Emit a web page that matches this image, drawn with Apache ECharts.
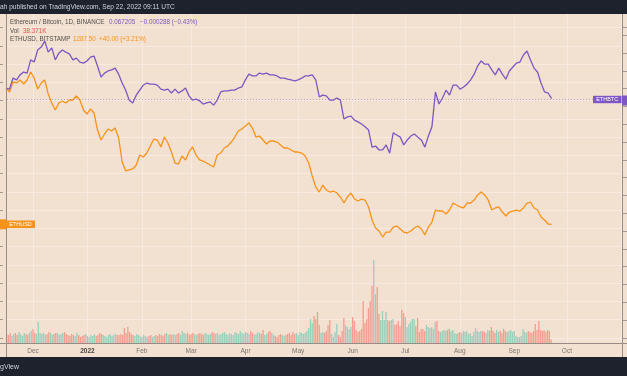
<!DOCTYPE html>
<html><head><meta charset="utf-8">
<script src="https://cdn.jsdelivr.net/npm/echarts@6/dist/echarts.min.js"></script>
<style>html,body{margin:0;padding:0;background:#f2e0d0}#c{width:627px;height:376px}</style>
</head><body><div id="c"></div><script>
// ---- data ----
const startDate = [2021, 10, 16];   // Nov 16, 2021 (first daily bar / first line point)
const lineStepDays = 2;             // line samples every 2 days
const ethbtc = [0.0702,0.0699,0.0730,0.0725,0.0739,0.0747,0.0744,0.0781,0.0775,0.0809,
0.0817,0.0834,0.0803,0.0815,0.0781,0.0800,0.0809,0.0803,0.0798,0.0781,
0.0786,0.0775,0.0772,0.0778,0.0789,0.0792,0.0764,0.0733,0.0744,0.0750,
0.0753,0.0758,0.0741,0.0716,0.0696,0.0668,0.0660,0.0682,0.0696,0.0710,
0.0716,0.0713,0.0713,0.0710,0.0699,0.0696,0.0699,0.0688,0.0699,0.0688,
0.0694,0.0702,0.0680,0.0668,0.0671,0.0666,0.0657,0.0660,0.0663,0.0654,
0.0668,0.0691,0.0694,0.0694,0.0696,0.0696,0.0702,0.0705,0.0725,0.0741,
0.0736,0.0736,0.0744,0.0741,0.0744,0.0739,0.0739,0.0736,0.0730,0.0730,
0.0727,0.0725,0.0722,0.0725,0.0730,0.0736,0.0736,0.0739,0.0725,0.0677,
0.0682,0.0680,0.0668,0.0668,0.0674,0.0668,0.0615,0.0621,0.0623,0.0612,
0.0607,0.0601,0.0593,0.0584,0.0536,0.0539,0.0528,0.0528,0.0542,0.0519,
0.0576,0.0570,0.0564,0.0542,0.0556,0.0567,0.0573,0.0564,0.0556,0.0536,
0.0567,0.0593,0.0691,0.0657,0.0674,0.0696,0.0682,0.0710,0.0710,0.0699,
0.0705,0.0713,0.0725,0.0741,0.0764,0.0778,0.0769,0.0769,0.0753,0.0739,
0.0758,0.0741,0.0727,0.0750,0.0761,0.0772,0.0775,0.0795,0.0806,0.0781,
0.0758,0.0747,0.0716,0.0691,0.0688,0.067205];
const ethusd = [4275,4187,4407,4385,4450,4363,4450,4626,4494,4253,
4385,4450,4144,3946,3793,3946,3990,3946,4012,4012,
4100,4012,3793,3705,3815,3727,3354,3135,3267,3376,
3332,3398,3179,2653,2456,2478,2500,2587,2806,2763,
2850,3004,3157,3135,2982,3201,3069,2872,2631,2609,
2784,2697,2872,2982,2806,2697,2675,2631,2587,2543,
2806,2850,2960,3004,3091,3201,3332,3376,3442,3508,
3398,3201,3223,3135,3048,3113,3113,3091,3026,2960,
2960,2916,2872,2872,2850,2784,2631,2346,2105,1995,
2149,2039,1995,2017,1973,1886,1754,1886,1973,1842,
1798,1842,1820,1667,1382,1206,1140,1009,1118,1118,
1228,1250,1184,1118,1097,1140,1206,1250,1184,1053,
1228,1338,1601,1579,1579,1513,1601,1754,1710,1667,
1645,1754,1754,1820,1930,1995,1930,1820,1601,1645,
1667,1557,1469,1557,1579,1601,1579,1645,1754,1776,
1645,1601,1447,1382,1294,1287.5];
const volumeK = [90,80,100,70,90,100,80,110,90,70,100,90,80,100,120,140,
100,90,210,100,90,100,80,90,110,100,80,90,100,100,80,90,
100,110,90,80,70,90,80,70,100,80,60,70,80,90,70,60,
80,70,90,70,80,100,90,80,70,60,80,90,70,80,90,80,
80,90,80,150,100,160,110,90,80,70,90,80,70,60,80,70,
60,70,80,60,70,80,70,90,80,70,90,100,80,90,80,90,
80,90,100,80,120,100,90,100,80,90,100,90,80,90,100,90,
80,100,90,80,90,110,100,90,100,80,90,100,110,90,80,100,
90,80,110,100,90,120,100,90,110,100,90,120,100,80,90,110,
100,90,130,80,90,110,120,100,80,70,60,80,90,80,70,80,
90,100,80,110,90,100,80,110,100,90,100,120,150,240,200,270,
240,310,180,100,110,100,120,180,230,90,60,110,190,80,60,120,
250,180,160,140,160,260,220,130,110,120,140,420,200,240,350,420,
570,830,490,560,290,230,320,230,310,230,220,230,240,180,190,220,
170,330,300,260,160,190,210,240,240,170,250,110,140,140,120,180,
160,150,160,140,210,220,120,110,120,130,120,130,140,120,130,100,
90,100,110,100,120,110,120,90,100,70,110,150,120,110,120,120,
110,100,130,120,160,120,100,130,110,120,100,140,120,110,120,130,
110,120,70,60,60,70,140,110,100,120,110,100,120,190,130,220,
130,120,130,110,130,120,38.371];
const monthNames = ['Jan','Feb','Mar','Apr','May','Jun','Jul','Aug','Sep','Oct','Nov','Dec'];
const axisStart = new Date(2021, 10, 16).getTime();
const axisEnd = new Date(2022, 10, 1).getTime();

// ---- styles ----
const BG = '#f2e0d0', GRIDC = '#f7ebe1', FRAME = '#978d86';
const PURPLE = '#7e57c2', ORANGE = '#f7931a', UP = '#98cfbd', DOWN = '#f29d90';
const FONT = '"Liberation Sans", Arial, sans-serif';

function dayDate(d) { return new Date(startDate[0], startDate[1], startDate[2] + d).getTime(); }
const btcData = ethbtc.map((v, i) => [dayDate(i * lineStepDays), v]);
const usdData = ethusd.map((v, i) => [dayDate(i * lineStepDays), v]);
const volData = volumeK.map((v, d) => {
  const k = Math.max(1, Math.ceil(d / lineStepDays));
  const up = ethbtc[k] >= ethbtc[k - 1];
  return { value: [dayDate(d), v], itemStyle: { color: up ? UP : DOWN } };
});

const chart = echarts.init(document.getElementById('c'), null, { renderer: 'canvas' });
chart.setOption({
  animation: false,
  backgroundColor: BG,
  grid: [
    { left: 6, right: 5, top: 14, bottom: 33 },
    { left: 6, right: 5, top: 27.55, height: 310.25 }
  ],
  xAxis: [
    { type: 'time', gridIndex: 0, min: axisStart, max: axisEnd, splitNumber: 12,
      axisLine: { show: false }, axisTick: { show: false },
      splitLine: { show: true, lineStyle: { color: GRIDC, width: 1 } },
      axisLabel: { color: '#7d7671', fontSize: 6.5, fontFamily: FONT, margin: 5,
        showMinLabel: false, showMaxLabel: false, hideOverlap: false,
        formatter: function (val) {
          const d = new Date(val);
          if (d.getDate() !== 1 || val >= axisEnd) return '';
          if (d.getMonth() === 0) return '{y|' + d.getFullYear() + '}';
          return monthNames[d.getMonth()];
        },
        rich: { y: { fontWeight: 'bold', color: '#4a4541', fontSize: 6.5, fontFamily: FONT } } } },
    { type: 'time', gridIndex: 1, min: axisStart, max: axisEnd, show: false }
  ],
  yAxis: [
    { type: 'value', gridIndex: 0, min: 0, max: 3290, show: false },
    { type: 'value', gridIndex: 1, position: 'left', min: -1200, max: 5600, interval: 400, offset: 3,
      axisLine: { show: false }, axisLabel: { show: false },
      axisTick: { show: true, length: 3, lineStyle: { color: '#a59b93' } },
      splitLine: { show: true, lineStyle: { color: GRIDC, width: 1 } } },
    { type: 'value', gridIndex: 1, position: 'right', min: 0, max: 0.0872, interval: 0.005, offset: 1,
      axisLine: { show: false }, axisLabel: { show: false },
      axisTick: { show: true, length: 4, lineStyle: { color: '#a59b93' } },
      splitLine: { show: false } }
  ],
  series: [
    { name: 'Vol', type: 'bar', xAxisIndex: 0, yAxisIndex: 0, data: volData, barWidth: 1.3, z: 1 },
    { name: 'ETHUSD', type: 'line', xAxisIndex: 1, yAxisIndex: 1, data: usdData, showSymbol: false,
      lineStyle: { color: ORANGE, width: 1.3 }, itemStyle: { color: ORANGE }, z: 3 },
    { name: 'ETHBTC', type: 'line', xAxisIndex: 1, yAxisIndex: 2, data: btcData, showSymbol: false,
      lineStyle: { color: PURPLE, width: 1.3 }, itemStyle: { color: PURPLE }, z: 4 }
  ]
});

const lastBtc = ethbtc[ethbtc.length - 1];
const yBtc = Math.round(chart.convertToPixel({ yAxisIndex: 2 }, lastBtc)) + 0.5;
const yUsd = chart.convertToPixel({ yAxisIndex: 1 }, ethusd[ethusd.length - 1]);
function txt(x, y, s, fill, size, weight) {
  return { type: 'text', x: x, y: y, z: 100,
    style: { text: s, fill: fill, fontSize: size, fontFamily: FONT, fontWeight: weight || 'normal', verticalAlign: 'middle', align: 'left' } };
}
chart.setOption({
  graphic: [
    // last-price dotted line of ETHBTC, positioned from the axis scale
    { type: 'line', z: 5, shape: { x1: 7, y1: yBtc, x2: 622, y2: yBtc },
      style: { stroke: 'rgba(126,87,194,0.45)', lineWidth: 1, lineDash: [1, 2] } },
    { type: 'rect', z: 90, shape: { x: 0, y: 0, width: 627, height: 14 }, style: { fill: '#1e222d' } },
    { type: 'rect', z: 90, shape: { x: 0, y: 357, width: 627, height: 19 }, style: { fill: '#1e222d' } },
    { type: 'line', z: 91, shape: { x1: 6.5, y1: 14, x2: 6.5, y2: 357 }, style: { stroke: FRAME, lineWidth: 1 } },
    { type: 'line', z: 91, shape: { x1: 622.5, y1: 14, x2: 622.5, y2: 357 }, style: { stroke: FRAME, lineWidth: 1 } },
    { type: 'line', z: 91, shape: { x1: 0, y1: 343.5, x2: 627, y2: 343.5 }, style: { stroke: FRAME, lineWidth: 1 } },
    txt(0, 7.5, 'ah published on TradingView.com, Sep 22, 2022 09:11 UTC', '#d1d4dc', 6.6),
    txt(0, 367, 'gView', '#d1d4dc', 7),
    txt(10, 22.5, 'Ethereum / Bitcoin, 1D, BINANCE', '#55514d', 6.3),
    txt(109, 22.5, '0.067205', PURPLE, 6.3),
    txt(140, 22.5, '\u22120.000288 (\u22120.43%)', PURPLE, 6.3),
    txt(10, 31, 'Vol', '#55514d', 6.3),
    txt(23, 31, '38.371K', '#ef5350', 6.3),
    txt(10, 39.5, 'ETHUSD, BITSTAMP', '#55514d', 6.3),
    txt(73, 39.5, '1287.50', ORANGE, 6.3),
    txt(99, 39.5, '+40.00 (+3.21%)', ORANGE, 6.3),
    // last-value tags
    { type: 'rect', z: 95, shape: { x: 593, y: yBtc - 3.7, width: 28.5, height: 7.4 }, style: { fill: PURPLE } },
    { type: 'rect', z: 95, shape: { x: 622, y: yBtc - 4, width: 5, height: 10 }, style: { fill: PURPLE } },
    { type: 'text', z: 96, x: 607.2, y: yBtc, style: { text: 'ETHBTC', fill: '#ffffff', fontSize: 5.5, fontFamily: FONT, align: 'center', verticalAlign: 'middle' } },
    { type: 'rect', z: 95, shape: { x: 6, y: yUsd - 3.8, width: 29, height: 7.6 }, style: { fill: ORANGE } },
    { type: 'rect', z: 95, shape: { x: 0, y: yUsd - 5, width: 6, height: 10 }, style: { fill: ORANGE } },
    { type: 'text', z: 96, x: 20.5, y: yUsd, style: { text: 'ETHUSD', fill: '#ffffff', fontSize: 5.5, fontFamily: FONT, align: 'center', verticalAlign: 'middle' } }
  ]
});
</script></body></html>
